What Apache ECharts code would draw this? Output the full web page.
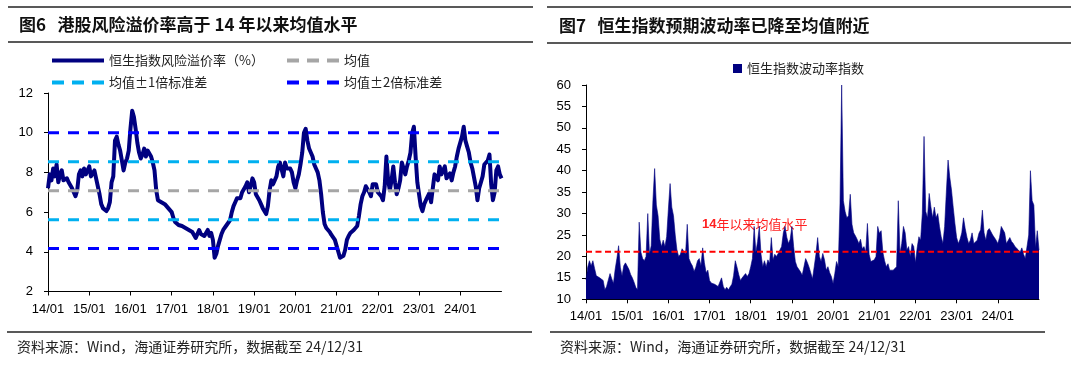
<!DOCTYPE html>
<html><head><meta charset="utf-8">
<script src="https://cdn.jsdelivr.net/npm/echarts@6/dist/echarts.min.js"></script>
<style>html,body{margin:0;padding:0;background:#fff}#c{width:1080px;height:369px}</style>
</head><body><div id="c"></div>
<script>
// ---- data ----
const startYear = 2014;
const endYear = 2025;
const perYear = 24; // two readings per month
const yearTicks = [2014, 2015, 2016, 2017, 2018, 2019, 2020, 2021, 2022, 2023, 2024];

// HSI equity risk premium (%), semi-monthly from 2014/01
const premium = [
  7.2,7.9,7.6,8.2,7.8,8.4,7.5,7.9,8.1,7.6,7.5,7.7,
  7.5,7.4,7.2,7.0,6.8,7.1,7.9,8.1,7.8,8.2,7.9,8.0,
  8.3,7.8,7.9,8.1,7.7,7.8,6.9,6.4,6.2,6.1,6.05,6.2,
  6.5,7.5,7.8,9.6,9.8,9.4,9.1,8.6,8.1,8.5,8.7,9.1,
  10.2,11.1,10.8,10.2,9.5,9.0,8.7,8.9,9.2,8.8,9.1,9.2,
  8.8,8.5,8.1,7.1,6.6,6.7,6.5,6.5,6.4,6.3,6.2,6.15,
  6.0,5.7,5.5,5.4,5.35,5.3,5.3,5.25,5.2,5.1,5.1,5.0,
  5.0,4.85,4.7,4.9,5.1,4.9,4.95,4.8,4.95,5.1,4.8,4.95,
  4.6,3.7,3.9,4.3,4.6,4.9,5.1,5.2,5.35,5.4,5.6,6.0,
  6.3,6.5,6.7,6.8,6.7,7.0,7.1,7.3,7.5,7.0,7.3,7.7,
  7.5,6.9,6.8,6.6,6.4,6.2,6.1,5.9,6.3,7.1,7.6,7.4,
  7.3,7.8,8.3,8.5,8.55,7.8,8.5,8.2,8.1,8.2,8.0,7.5,
  7.2,7.6,7.9,8.4,9.0,10.0,10.2,9.6,9.2,9.0,8.8,8.4,
  8.2,8.0,7.6,6.9,6.0,5.4,5.2,5.1,5.0,4.85,4.75,4.6,
  4.3,4.0,3.7,3.6,3.8,4.1,4.6,4.8,4.95,5.0,5.1,5.1,
  5.3,5.8,6.4,6.8,7.0,7.3,7.4,7.0,6.8,7.4,7.5,7.4,
  7.0,6.9,6.8,6.6,7.3,8.8,7.6,7.1,7.6,8.3,7.5,6.9,
  7.2,7.6,8.5,8.2,7.9,8.3,8.6,9.0,10.0,10.3,8.8,7.5,
  6.9,6.3,6.05,6.4,6.6,6.7,6.95,6.5,7.2,7.9,8.0,7.6,
  8.3,7.9,7.8,8.3,7.7,7.8,7.95,7.6,8.0,8.3,8.8,9.2,
  9.5,9.8,10.3,9.6,9.3,9.0,8.5,8.2,8.1,7.3,6.6,7.2,
  7.5,7.8,8.4,8.4,8.6,8.9,7.4,6.6,7.0,8.1,8.3,7.9,7.7
];
const premiumMean = [7.08];
const premiumSd1 = [5.62, 8.54];
const premiumSd2 = [4.16, 10.0];

// HSI volatility index, semi-monthly from 2014/01
const vhsi = [
  14.5,17.5,19.0,17.8,19.0,17.2,15.5,15.3,15.0,15.2,14.4,12.2,
  13.0,14.5,16.0,14.8,13.7,17.0,19.5,22.5,17.5,15.5,17.8,18.5,
  18.8,17.0,15.8,15.0,14.0,12.8,12.2,28.0,21.0,19.5,19.0,20.0,
  30.0,20.5,22.5,33.0,40.5,32.0,29.5,24.0,22.3,23.8,22.3,24.6,
  31.0,37.0,31.5,29.5,25.0,21.5,20.0,20.5,21.8,22.0,20.5,27.5,
  19.5,18.5,17.8,16.5,17.5,19.0,19.5,17.8,22.0,18.5,16.2,16.8,
  14.4,13.8,13.6,13.5,13.3,13.0,12.6,15.0,13.0,12.2,12.8,12.2,
  12.9,13.5,15.5,19.0,17.5,15.8,14.4,15.0,14.6,16.0,15.3,16.0,
  17.6,19.5,27.0,21.0,23.5,27.0,20.5,17.6,19.0,17.6,19.2,18.4,
  24.4,19.2,20.5,20.0,20.7,21.5,22.3,25.5,27.0,24.5,23.0,24.0,
  27.0,22.3,18.8,17.6,17.5,16.4,15.6,15.3,19.5,18.6,17.5,17.8,
  14.8,17.6,20.5,24.4,20.0,18.8,20.7,19.2,16.8,17.6,16.2,15.3,
  13.7,16.0,18.8,17.6,32.0,60.0,33.0,30.5,29.0,29.5,34.5,27.5,
  25.5,24.8,24.0,23.0,24.0,21.8,22.3,21.0,27.7,20.5,18.8,18.5,
  19.2,20.0,27.0,25.4,26.0,21.0,19.0,17.6,18.3,16.8,16.4,16.8,
  16.8,17.6,33.0,20.7,23.0,27.0,25.5,21.5,22.3,20.0,23.0,22.3,
  18.5,22.0,24.6,23.8,30.0,48.0,30.5,29.0,34.7,31.6,29.0,31.5,
  29.0,30.0,27.0,24.6,23.0,27.0,35.0,42.5,38.5,35.5,31.5,27.7,
  24.4,23.0,24.0,25.5,29.0,26.5,24.5,23.0,23.8,25.5,23.0,23.0,
  23.8,25.4,26.2,30.8,25.5,23.8,26.0,26.5,26.2,25.0,24.4,23.8,
  23.0,24.4,27.0,27.0,25.5,23.0,23.0,24.4,23.5,23.0,22.3,22.0,
  21.5,21.0,22.0,20.5,19.5,19.2,25.0,40.0,33.0,32.0,22.0,26.0,21.5
];
const vhsiMean = [21.1];

// ---- build ----
const FONT = "'Liberation Sans','Noto Sans CJK SC',sans-serif";
const CJK = "'Noto Sans CJK SC','Liberation Sans',sans-serif";
const toPairs = arr => arr.map((v, i) => [startYear + i / perYear, v]);
const flat = v => [[startYear, v], [endYear, v]];
const yearLabel = v => String(Math.round(v) % 100).padStart(2, '0') + '/01';

const solidIcon = 'path://M0,0H52V4H0Z';
const dashIcon = 'path://M0,0H12V4H0Z M20,0H32V4H20Z M40,0H52V4H40Z';

function xAxisFor(gridIndex) {
  return {
    type: 'value', gridIndex, min: startYear, max: endYear,
    axisLine: { show: true, lineStyle: { color: '#000', width: 1 } },
    axisTick: { show: true, length: 4, customValues: yearTicks, lineStyle: { color: '#000' } },
    axisLabel: { customValues: yearTicks, formatter: yearLabel, fontSize: 13, color: '#000', fontFamily: FONT, margin: 11 },
    splitLine: { show: false }
  };
}
function yAxisFor(gridIndex, min, max, interval) {
  return {
    type: 'value', gridIndex, min, max, interval,
    axisLine: { show: true, lineStyle: { color: '#000', width: 1 } },
    axisTick: { show: true, length: 4, lineStyle: { color: '#000' } },
    axisLabel: { fontSize: 13, color: '#000', fontFamily: FONT, margin: 15 },
    splitLine: { show: false }
  };
}
function dashed(name, value, color, xi, yi, width, dash) {
  return {
    name, type: 'line', xAxisIndex: xi, yAxisIndex: yi, data: flat(value),
    symbol: 'none', silent: true, color,
    lineStyle: { color, width, type: dash }
  };
}
const legendText = { fontSize: 13, color: '#222', fontFamily: CJK };
function legendAt(left, top, name, icon) {
  return { left, top, itemWidth: 52, itemHeight: 4, itemGap: 0, padding: 0,
    textStyle: legendText, data: [{ name, icon }], selectedMode: false };
}

const series = [
  { name: '恒生指数风险溢价率（%）', type: 'line', xAxisIndex: 0, yAxisIndex: 0,
    data: toPairs(premium), symbol: 'none', color: '#000080',
    lineStyle: { color: '#000080', width: 4, join: 'round' } },
  dashed('均值', premiumMean[0], '#A6A6A6', 0, 0, 3, [11, 9]),
  dashed('均值±1倍标准差', premiumSd1[0], '#00B0F0', 0, 0, 3, [11, 9]),
  dashed('均值±1倍标准差', premiumSd1[1], '#00B0F0', 0, 0, 3, [11, 9]),
  dashed('均值±2倍标准差', premiumSd2[0], '#0000FF', 0, 0, 3, [11, 9]),
  dashed('均值±2倍标准差', premiumSd2[1], '#0000FF', 0, 0, 3, [11, 9]),
  { name: '恒生指数波动率指数', type: 'line', xAxisIndex: 1, yAxisIndex: 1,
    data: toPairs(vhsi), symbol: 'none', color: '#000080',
    lineStyle: { color: '#000080', width: 0.6 },
    areaStyle: { color: '#000080', opacity: 1, origin: 'start' } },
  dashed('14年以来均值', vhsiMean[0], '#FF0000', 1, 1, 2, [6, 3.5])
];

const rule = (x1, y1, x2, w) => ({ type: 'line', shape: { x1, y1, x2, y2: y1 }, style: { stroke: '#222', lineWidth: w }, silent: true });
const text = (x, y, t, font, fill, rich) => ({ type: 'text', x, y, silent: true,
  style: { text: t, font, fill, textVerticalAlign: 'middle', rich } });

const option = {
  animation: false,
  backgroundColor: '#fff',
  grid: [
    { left: 48, top: 93, width: 453.5, height: 198.5 },
    { left: 586, top: 85, width: 453, height: 214.3 }
  ],
  xAxis: [xAxisFor(0), xAxisFor(1)],
  yAxis: [yAxisFor(0, 2, 12, 2), yAxisFor(1, 10, 60, 5)],
  legend: [
    legendAt(52, 54, '恒生指数风险溢价率（%）', solidIcon),
    legendAt(287, 54, '均值', dashIcon),
    legendAt(52, 76, '均值±1倍标准差', dashIcon),
    legendAt(287, 76, '均值±2倍标准差', dashIcon),
    { left: 733, top: 62, itemWidth: 9, itemHeight: 9, padding: 0, selectedMode: false,
      textStyle: legendText, data: [{ name: '恒生指数波动率指数', icon: 'rect' }] }
  ],
  graphic: [
    rule(8, 7, 533, 1.5), rule(8, 42, 533, 1.5),
    rule(547, 7, 1071, 1.5), rule(547, 43, 1071, 1.5),
    rule(7, 332, 532, 1.5), rule(550, 332, 1045, 1.5),
    text(19, 25, '图6   港股风险溢价率高于 14 年以来均值水平', "bold 17px " + CJK, '#111'),
    text(559, 26, '图7   恒生指数预期波动率已降至均值附近', "bold 17px " + CJK, '#111'),
    text(17, 347, '资料来源：Wind，海通证券研究所，数据截至 24/12/31', "14px " + CJK, '#222'),
    text(560, 347, '资料来源：Wind，海通证券研究所，数据截至 24/12/31', "14px " + CJK, '#222'),
    { type: 'text', x: 702, y: 224, silent: true,
      style: { text: '{a|14}年以来均值水平', font: "13px " + CJK, fill: '#FF2020', textVerticalAlign: 'middle',
        rich: { a: { fontWeight: 'bold', fontSize: 13, fontFamily: FONT, fill: '#FF2020', color: '#FF2020' } } } }
  ],
  series
};

const chart = echarts.init(document.getElementById('c'), null, { renderer: 'canvas' });
chart.setOption(option);
</script>
</body></html>
